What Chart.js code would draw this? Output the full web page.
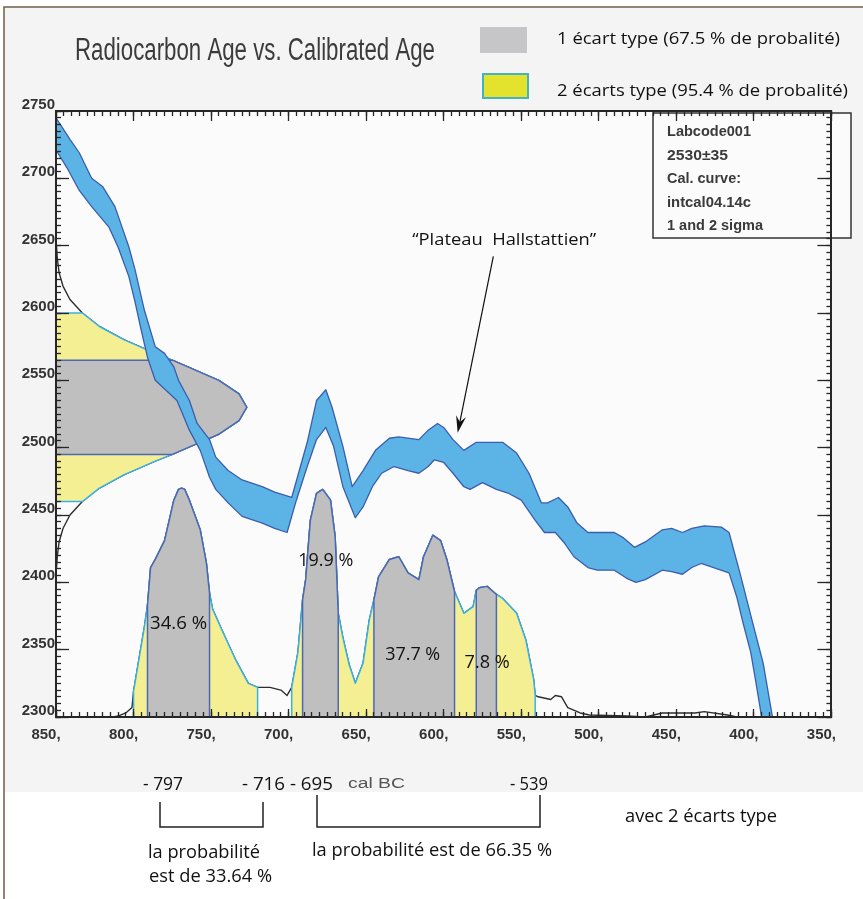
<!DOCTYPE html>
<html>
<head>
<meta charset="utf-8">
<title>Radiocarbon Age vs. Calibrated Age</title>
<script src="https://cdn.jsdelivr.net/npm/chart.js@4.4.1/dist/chart.umd.min.js"></script>
<style>
  html, body { margin:0; padding:0; background:#fff; }
  #wrap { width:863px; height:899px; }
</style>
</head>
<body>
<div id="wrap"><canvas id="chart" width="863" height="899"></canvas></div>
<script>
// --- values ---
const CAL_MIN = 350, CAL_MAX = 850;     // cal BC, drawn right to left
const AGE_MIN = 2300, AGE_MAX = 2750;   // radiocarbon age BP
const MAJOR_STEP = 50, MINOR_STEP = 5;

// calibration curve band (upper and lower edge)
const curveUpperYears = [850,841,835,827,820,812,803,799,793,786,780,774,771,764,759,751,747,739,730,717,709,698,688,682,676,672,665,659,652,644,635,629,616,610,604,600,594,587,579,570,562,553,545,537,533,526,520,514,507,497,490,484,477,470,459,453,446,440,432,421,416,413,409,405,399,394,388];
const curveUpperAges  = [2745,2729,2719,2700,2694,2679,2649,2632,2602,2575,2570,2560,2550,2535,2518,2506,2493,2483,2476,2471,2467,2463,2504,2535,2543,2530,2501,2471,2483,2498,2507,2508,2506,2513,2518,2515,2506,2498,2504,2504,2504,2496,2481,2459,2459,2463,2456,2444,2437,2437,2437,2433,2426,2430,2439,2440,2437,2440,2442,2441,2437,2424,2407,2389,2362,2340,2300];
const curveLowerYears = [850,843,835,827,816,810,803,799,795,791,786,772,764,757,751,747,739,730,717,709,701,695,688,682,676,671,665,657,652,646,640,632,623,616,610,606,600,594,587,583,575,566,558,550,541,535,528,522,516,507,501,490,482,476,470,459,453,446,440,434,426,416,411,407,402,399,395];
const curveLowerAges  = [2721,2708,2691,2679,2664,2649,2627,2608,2587,2567,2550,2535,2513,2498,2478,2469,2459,2449,2444,2440,2437,2461,2486,2506,2515,2501,2471,2448,2456,2471,2481,2486,2483,2481,2486,2491,2489,2481,2471,2469,2474,2469,2466,2461,2446,2437,2437,2429,2419,2411,2409,2409,2403,2400,2402,2409,2408,2406,2411,2414,2411,2407,2389,2370,2348,2328,2300];

// measured date 2530±35, its probability drawn against the age axis (width in years)
const dateAges   = [2650,2640,2630,2620,2610,2600,2590,2580,2570,2565,2560,2550,2540,2530,2520,2510,2500,2495,2490,2480,2470,2460,2450,2440,2430,2420,2410];
const dateWidths = [0.3,0.9,2,4.5,9,17,28,44,64,75,85,105,118,123,118,105,85,75,64,44,28,17,9,4.5,2,0.9,0.3];
const dateSigma1 = [2565, 2495];
const dateSigma2 = [2600, 2460];

// calibrated probability, height above the 2300 baseline
const calYears   = [813,810,805,801,800,793,791,789,786,780,774,771,769,767,764,757,753,751,749,742,734,726,720,712,705,701,698,694,691,689,686,682,678,673,670,668,665,661,657,652,648,645,642,635,629,623,616,613,607,602,598,593,587,581,579,577,572,566,562,553,547,542,541,539,531,528,524,520,512,506,482,470,459,438,432,417,411];
const calHeights = [0,0.7,3,7,19,67,83,111,117,131,161,169,170,169,161,139,114,92,80,62,42,25,22,22,20,16,22,48,87,102,146,166,169,161,134,77,59,39,25,40,72,87,104,117,119,107,102,119,135,131,117,93,77,82,94,96,97,91,88,77,57,28,16,15,13,16,15,7,3,1.5,0.7,0,3,3,4,1.5,0];
const sigma1Ranges = [[791,751],[691,668],[645,593],[579,566]];
const sigma2Ranges = [[800,720],[698,541]];

// labels inside the plot
const pctLabels = ['34.6 %','19.9 %','37.7 %','7.8 %'];
const pctYears  = [771,676,620,572];
const pctAges   = [2370,2417,2347,2341];
const pctWidths = [57,55,55,45];
const plateauLabel = '\u201cPlateau  Hallstattien\u201d';
const plateauAt = [561, 2656];
const arrowFrom = [568, 2642];
const arrowTo   = [591, 2511];
const infoLines = ['Labcode001','2530\u00b135','Cal. curve:','intcal04.14c','1 and 2 sigma'];

// --- colours ---
const INK = '#2e2e2e';
const AXIS = '#262626';
const BAND_FILL = '#5cb4e6', BAND_EDGE = '#3b5dad';
const GREY = '#bfbfc0', GREY_EDGE = '#4c67b4';
const YELLOW = '#f4ef93', YELLOW_EDGE = '#38b2e6';
const SANS = '"Open Sans", "Noto Sans", sans-serif';
const ARIAL = '"Liberation Sans", Arial, sans-serif';

// --- build the point lists ---
const pts = (xs, ys) => xs.map((x, i) => ({x, y: ys[i]}));

const bandPts = pts(curveUpperYears, curveUpperAges).concat(pts(curveLowerYears, curveLowerAges).reverse());
const calPts = calYears.map((x, i) => ({x, y: AGE_MIN + calHeights[i]}));
const datePts = dateAges.map((a, i) => ({x: CAL_MAX - dateWidths[i], y: a}));

function calBand([from, to]) {
  const inner = calPts.filter(p => p.x <= from && p.x >= to);
  return [{x: from, y: AGE_MIN}, ...inner, {x: to, y: AGE_MIN}];
}
function dateBand([top, bottom]) {
  const inner = datePts.filter(p => p.y <= top && p.y >= bottom);
  return [{x: CAL_MAX, y: top}, ...inner, {x: CAL_MAX, y: bottom}];
}

function shape(data, fill, edge, width, order) {
  return {data, order, xAxisID: 'x', yAxisID: 'y', fill: 'shape', backgroundColor: fill,
    borderColor: edge, borderWidth: width, pointRadius: 0, tension: 0, borderJoinStyle: 'round'};
}
function plain(data, color, width, order) {
  return {data, order, xAxisID: 'x', yAxisID: 'y', fill: false, borderColor: color,
    borderWidth: width, pointRadius: 0, tension: 0, borderJoinStyle: 'round'};
}

const datasets = [
  shape(bandPts, BAND_FILL, BAND_EDGE, 1.3, 0),
  ...sigma1Ranges.map(r => shape(calBand(r), GREY, GREY_EDGE, 1.5, 1)),
  ...sigma2Ranges.map(r => shape(calBand(r), YELLOW, YELLOW_EDGE, 1.5, 2)),
  plain(calPts, INK, 1.4, 3),
  shape(dateBand(dateSigma1), GREY, GREY_EDGE, 1.5, 4),
  shape(dateBand(dateSigma2), YELLOW, YELLOW_EDGE, 1.5, 5),
  plain(datePts, INK, 1.4, 6)
];

// --- axes: ticks point inward, minor ticks come from a second axis on each side ---
// size = room kept for the labels (the labels are clipped to the axis box)
const tickFont = {family: ARIAL, size: 15, weight: 'bold'};
function axis(position, step, tickLen, size, opts = {}) {
  const horizontal = position === 'top' || position === 'bottom';
  return {
    type: 'linear', axis: horizontal ? 'x' : 'y', position,
    min: horizontal ? CAL_MIN : AGE_MIN,
    max: horizontal ? CAL_MAX : AGE_MAX,
    reverse: horizontal,
    weight: size ? 1 : 0,
    afterFit(s) { if (horizontal) s.height = size; else s.width = size; },
    grid: {display: true, drawOnChartArea: false, drawTicks: true, tickLength: -tickLen, tickColor: AXIS, tickWidth: 1.3, z: 1},
    border: {display: !!opts.border, color: AXIS, width: 2, z: 1},
    ticks: Object.assign({display: false, stepSize: step, autoSkip: false, maxRotation: 0, z: 1}, opts.ticks || {})
  };
}

// --- text helpers ---
function fitText(ctx, text, left, base, width, font, color) {
  ctx.save();
  ctx.font = font;
  ctx.fillStyle = color;
  ctx.textAlign = 'left';
  ctx.textBaseline = 'alphabetic';
  const w = ctx.measureText(text).width;
  ctx.translate(left, base);
  ctx.scale(width / w, 1);
  ctx.fillText(text, 0, 0);
  ctx.restore();
}
function arrow(ctx, x1, y1, x2, y2) {
  const a = Math.atan2(y2 - y1, x2 - x1), c = Math.cos(a), s = Math.sin(a);
  ctx.save();
  ctx.strokeStyle = '#111'; ctx.fillStyle = '#111'; ctx.lineWidth = 1.2;
  ctx.beginPath(); ctx.moveTo(x1, y1); ctx.lineTo(x2 - 10 * c, y2 - 10 * s); ctx.stroke();
  ctx.beginPath();
  ctx.moveTo(x2, y2);
  ctx.lineTo(x2 - 17 * c + 5 * s, y2 - 17 * s - 5 * c);
  ctx.lineTo(x2 - 11 * c, y2 - 11 * s);
  ctx.lineTo(x2 - 17 * c - 5 * s, y2 - 17 * s + 5 * c);
  ctx.closePath(); ctx.fill();
  ctx.restore();
}

const notes = {
  id: 'notes',
  beforeDraw(chart) {
    const {ctx, chartArea: a} = chart;
    ctx.save();
    ctx.fillStyle = '#ffffff'; ctx.fillRect(0, 0, chart.width, chart.height);
    ctx.fillStyle = '#f4f4f4'; ctx.fillRect(5, 8, chart.width - 5, 784);
    ctx.fillStyle = '#fbfbfb'; ctx.fillRect(a.left, a.top, a.right - a.left, a.bottom - a.top);
    ctx.strokeStyle = '#6f5b45'; ctx.lineWidth = 1.5;
    ctx.beginPath(); ctx.moveTo(4, chart.height); ctx.lineTo(4, 7); ctx.lineTo(chart.width, 7); ctx.stroke();
    ctx.restore();
  },
  afterDatasetsDraw(chart) {
    // info box in the top right corner
    const ctx = chart.ctx;
    ctx.save();
    ctx.fillStyle = '#fbfbfb'; ctx.fillRect(653, 113, 198, 125);
    ctx.strokeStyle = '#333'; ctx.lineWidth = 1.5; ctx.strokeRect(653, 113, 198, 125);
    ctx.restore();
    const widths = [84, 61, 74, 84, 96];
    infoLines.forEach((t, i) => fitText(ctx, t, 667, 136 + i * 23.5, widths[i], 'bold 14px ' + ARIAL, '#3a3a3a'));
  },
  afterDraw(chart) {
    const {ctx, scales: {x, y}} = chart;
    // title and legend
    fitText(ctx, 'Radiocarbon Age vs. Calibrated Age', 75, 60, 360, '31px "Liberation Sans Narrow", ' + ARIAL, '#3b3b3b');
    ctx.save();
    ctx.fillStyle = '#c6c6c8'; ctx.fillRect(480, 27, 47, 26);
    ctx.fillStyle = '#e3e32d'; ctx.fillRect(483, 74, 45, 24);
    ctx.strokeStyle = '#45b2c0'; ctx.lineWidth = 2; ctx.strokeRect(483, 74, 45, 24);
    ctx.restore();
    fitText(ctx, '1 \u00e9cart type (67.5 % de probalit\u00e9)', 557, 44, 283, '17px ' + SANS, '#111');
    fitText(ctx, '2 \u00e9carts type (95.4 % de probalit\u00e9)', 557, 96, 291, '17px ' + SANS, '#111');

    // percentages of the 1 sigma ranges
    pctLabels.forEach((t, i) => {
      const px = x.getPixelForValue(pctYears[i]), py = y.getPixelForValue(pctAges[i]);
      fitText(ctx, t, px - pctWidths[i] / 2, py + 6.5, pctWidths[i], '18px ' + SANS, '#111');
    });

    // plateau note with its arrow
    const tx = x.getPixelForValue(plateauAt[0]), ty = y.getPixelForValue(plateauAt[1]);
    fitText(ctx, plateauLabel, tx - 92, ty + 7, 184, '17px ' + SANS, '#111');
    arrow(ctx, x.getPixelForValue(arrowFrom[0]), y.getPixelForValue(arrowFrom[1]),
               x.getPixelForValue(arrowTo[0]), y.getPixelForValue(arrowTo[1]));

    // ranges written under the axis
    fitText(ctx, '- 797', 143, 790, 40, '18px ' + SANS, '#111');
    fitText(ctx, '- 716 - 695', 242, 790, 91, '18px ' + SANS, '#111');
    fitText(ctx, 'cal BC', 348, 788, 57, '14px ' + ARIAL, '#555');
    fitText(ctx, '- 539', 510, 790, 38, '18px ' + SANS, '#111');
    ctx.save();
    ctx.strokeStyle = '#222'; ctx.lineWidth = 1.5;
    ctx.beginPath();
    ctx.moveTo(160, 802); ctx.lineTo(160, 827); ctx.lineTo(263, 827); ctx.lineTo(263, 802);
    ctx.moveTo(317, 795); ctx.lineTo(317, 827); ctx.lineTo(540, 827); ctx.lineTo(540, 795);
    ctx.stroke();
    ctx.restore();
    fitText(ctx, 'la probabilit\u00e9', 148, 858, 112, '18px ' + SANS, '#111');
    fitText(ctx, 'est de 33.64 %', 149, 882, 123, '18px ' + SANS, '#111');
    fitText(ctx, 'la probabilit\u00e9 est de 66.35 %', 312, 856, 240, '18px ' + SANS, '#111');
    fitText(ctx, 'avec 2 \u00e9carts type', 625, 822, 152, '18px ' + SANS, '#111');
  }
};

new Chart(document.getElementById('chart').getContext('2d'), {
  type: 'line',
  data: {datasets},
  options: {
    responsive: false,
    animation: false,
    devicePixelRatio: 1,
    events: [],
    layout: {autoPadding: false, padding: {left: 0, top: 111, right: 13, bottom: 142}},
    plugins: {legend: {display: false}, tooltip: {enabled: false}, title: {display: false}},
    scales: {
      x: axis('bottom', MAJOR_STEP, 8, 40, {border: true, ticks: {display: true, font: tickFont, color: '#333',
          padding: 17, labelOffset: -10, callback: v => v + ','}}),
      xMinor: axis('bottom', MINOR_STEP, 5, 0),
      xTop: axis('top', MAJOR_STEP, 10, 0, {border: true}),
      xTopMinor: axis('top', MINOR_STEP, 5, 0),
      y: axis('left', MAJOR_STEP, 13, 56, {border: true, ticks: {display: true, font: tickFont, color: '#333',
          padding: 14, labelOffset: -6, callback: v => String(v)}}),
      yMinor: axis('left', MINOR_STEP, 5, 0),
      yRight: axis('right', MAJOR_STEP, 14, 0, {border: true}),
      yRightMinor: axis('right', MINOR_STEP, 5, 0)
    }
  },
  plugins: [notes]
});
</script>
</body>
</html>
